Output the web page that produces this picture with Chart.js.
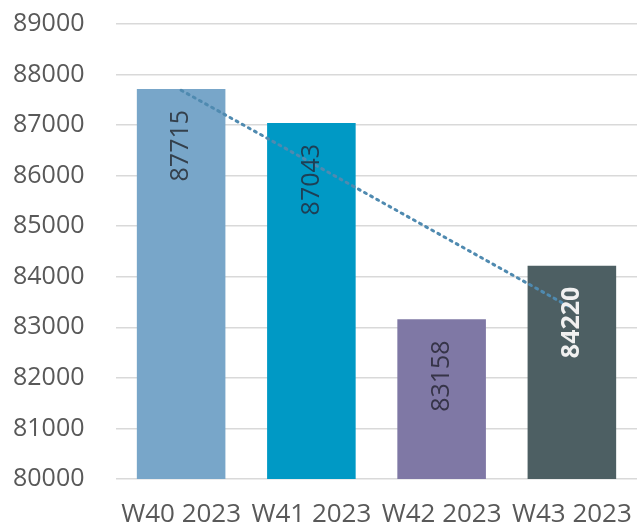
<!DOCTYPE html>
<html>
<head>
<meta charset="utf-8">
<script src="https://cdn.jsdelivr.net/npm/chart.js@4/dist/chart.umd.min.js"></script>
<style>
html,body{margin:0;padding:0;background:#fff;}
#wrap{width:639px;height:528px;}
</style>
</head>
<body>
<div id="wrap"><canvas id="c" width="639" height="528"></canvas></div>
<script>
const categories = ["W40 2023", "W41 2023", "W42 2023", "W43 2023"];
const values = [87715, 87043, 83158, 84220];
const trendValues = [87690, null, null, 83380];
const barColors = ["#78A6C9", "#0099C5", "#7F78A5", "#4D5F63"];
const labelColors = ["#34404C", "#1E3F55", "#363448", "#F0F0F0"];
const yMin = 80000, yMax = 89000, yStep = 1000;

const FONT = "'Open Sans', 'Noto Sans', sans-serif";

const barLabels = {
  id: 'barLabels',
  afterDatasetsDraw(chart) {
    const meta = chart.getDatasetMeta(1);
    const ctx = chart.ctx;
    meta.data.forEach((bar, i) => {
      ctx.save();
      ctx.translate(bar.x, bar.y + 21);
      ctx.rotate(-Math.PI / 2);
      ctx.textAlign = 'right';
      ctx.textBaseline = 'middle';
      ctx.fillStyle = labelColors[i];
      ctx.font = (i === 3 ? 'bold ' : '') + '25px ' + FONT;
      ctx.fillText(String(values[i]), 0, 0);
      ctx.restore();
    });
  }
};

new Chart(document.getElementById('c'), {
  type: 'bar',
  data: {
    labels: categories,
    datasets: [
      {
        type: 'line',
        data: trendValues,
        spanGaps: true,
        borderColor: '#4F8AB0',
        borderWidth: 3,
        borderDash: [2, 5],
        borderCapStyle: 'round',
        pointRadius: 0,
        fill: false,
        order: 0
      },
      {
        type: 'bar',
        data: values,
        backgroundColor: barColors,
        borderWidth: 0,
        barPercentage: 0.68,
        categoryPercentage: 1.0,
        order: 1
      }
    ]
  },
  plugins: [barLabels],
  options: {
    responsive: false,
    animation: false,
    events: [],
    layout: { padding: { top: 24, right: 2, left: 13, bottom: 0 } },
    plugins: { legend: { display: false }, tooltip: { enabled: false } },
    scales: {
      x: {
        grid: { display: false, drawTicks: false },
        border: { display: false },
        ticks: { color: '#595959', font: { family: FONT, size: 26, lineHeight: 2.7 }, padding: 0, maxRotation: 0, autoSkip: false },
        afterFit(s) { s.height = 49; }
      },
      y: {
        min: yMin, max: yMax,
        grid: { color: '#D9D9D9', lineWidth: 1.5, drawTicks: false },
        border: { display: false },
        ticks: { stepSize: yStep, color: '#595959', font: { family: FONT, size: 25 }, padding: 0, crossAlign: 'far', callback: v => String(v) },
        afterFit(s) { s.width = 103; }
      }
    }
  }
});
</script>
</body>
</html>
